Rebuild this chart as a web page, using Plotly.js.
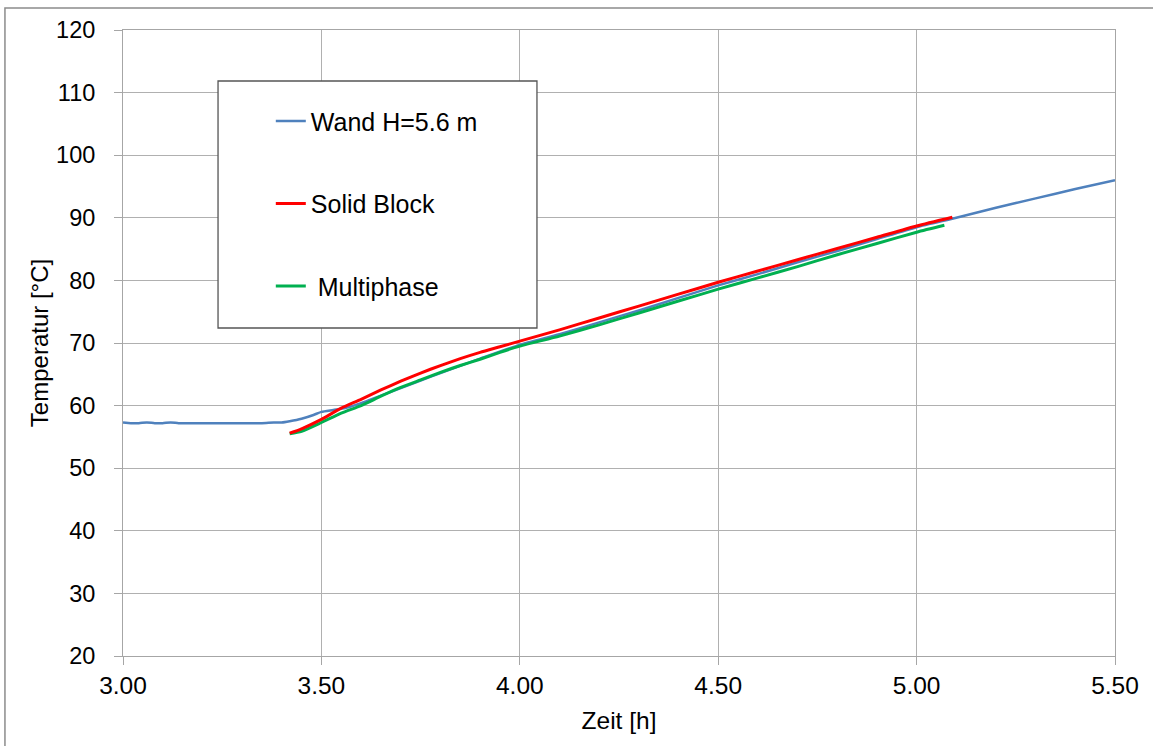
<!DOCTYPE html>
<html>
<head>
<meta charset="utf-8">
<script src="https://cdn.plot.ly/plotly-3.0.1.min.js"></script>
<style>html,body{margin:0;padding:0;background:#fff;}#chart{width:1153px;height:746px;}</style>
</head>
<body>
<div id="chart"></div>
<script>
// Wand H=5.6 m (measured)
var timeWand = [3.00,3.02,3.04,3.06,3.08,3.10,3.12,3.14,3.16,3.20,3.25,3.30,3.35,3.38,3.40,3.42,3.45,3.48,3.50,3.53,3.56,3.60,3.65,3.70,3.75,3.80,3.90,4.00,4.10,4.20,4.30,4.40,4.50,4.60,4.70,4.80,4.90,5.00,5.10,5.20,5.30,5.40,5.50];
var tempWand = [57.3,57.2,57.2,57.3,57.2,57.2,57.3,57.2,57.2,57.2,57.2,57.2,57.2,57.3,57.3,57.5,57.9,58.5,59.0,59.3,59.6,60.4,61.6,62.8,64.0,65.2,67.5,69.7,71.4,73.3,75.2,77.2,79.2,81.0,82.9,84.7,86.6,88.5,90.0,91.6,93.1,94.6,96.0];
// Solid Block (simulation)
var timeSolid = [3.42,3.45,3.50,3.55,3.60,3.65,3.70,3.75,3.80,3.85,3.90,3.95,4.00,4.10,4.20,4.30,4.40,4.50,4.60,4.70,4.80,4.90,5.00,5.09];
var tempSolid = [55.6,56.3,57.8,59.6,61.0,62.5,63.9,65.2,66.4,67.5,68.5,69.4,70.3,72.1,74.0,75.9,77.8,79.7,81.5,83.3,85.1,86.9,88.7,90.1];
// Multiphase (simulation)
var timeMulti = [3.42,3.45,3.50,3.55,3.60,3.65,3.70,3.75,3.80,3.85,3.90,3.95,4.00,4.10,4.20,4.30,4.40,4.50,4.60,4.70,4.80,4.90,5.00,5.07];
var tempMulti = [55.5,55.9,57.3,58.8,60.0,61.5,62.9,64.1,65.3,66.4,67.4,68.5,69.5,71.1,72.9,74.8,76.7,78.6,80.4,82.2,84.1,85.9,87.7,88.8];

var seriesNames = ['Wand H=5.6 m', 'Solid Block', '\u00a0Multiphase'];
var xTickVals = [3.0, 3.5, 4.0, 4.5, 5.0, 5.5];
var xTickText = ['3.00', '3.50', '4.00', '4.50', '5.00', '5.50'];
var yTickVals = [20, 30, 40, 50, 60, 70, 80, 90, 100, 110, 120];

var FONT = 'Liberation Sans, Arial, sans-serif';

var traces = [
  {x: timeWand, y: tempWand, name: seriesNames[0], mode: 'lines', legendgroup: 'a', legendrank: 1,
   line: {color: '#4F81BD', width: 2.5, shape: 'spline', smoothing: 0.6}},
  {x: timeMulti, y: tempMulti, name: seriesNames[2], mode: 'lines', legendgroup: 'c', legendrank: 3,
   line: {color: '#00B050', width: 3, shape: 'spline', smoothing: 0.6}},
  {x: timeSolid, y: tempSolid, name: seriesNames[1], mode: 'lines', legendgroup: 'b', legendrank: 2,
   line: {color: '#FF0000', width: 3, shape: 'spline', smoothing: 0.6}}
];

var layout = {
  width: 1153, height: 746,
  margin: {l: 123, r: 38, t: 30, b: 90, pad: 0},
  paper_bgcolor: '#ffffff', plot_bgcolor: '#ffffff',
  font: {family: FONT, size: 24.5, color: '#000'},
  showlegend: true,
  legend: {
    x: 0.149, xanchor: 'left', y: 0.891, yanchor: 'top',
    bgcolor: 'rgba(0,0,0,0)', borderwidth: 0,
    traceorder: 'grouped', tracegroupgap: 47,
    font: {family: FONT, size: 25, color: '#000'},
    itemclick: false, itemdoubleclick: false
  },
  xaxis: {
    range: [3.0, 5.5], tickmode: 'array', tickvals: xTickVals, ticktext: xTickText,
    showgrid: true, gridcolor: '#b0b0b0', gridwidth: 1, zeroline: false,
    showline: true, linecolor: '#a6a6a6', linewidth: 1, mirror: true,
    ticks: 'outside', ticklen: 8, tickcolor: '#a6a6a6',
    tickfont: {family: FONT, size: 24.5, color: '#000'},
    title: {text: 'Zeit [h]', font: {family: FONT, size: 24.5, color: '#000'}, standoff: 13}
  },
  yaxis: {
    range: [20, 120], tickmode: 'array', tickvals: yTickVals,
    showgrid: true, gridcolor: '#b0b0b0', gridwidth: 1, zeroline: false,
    showline: true, linecolor: '#a6a6a6', linewidth: 1, mirror: true,
    ticks: 'outside', ticklen: 8, tickcolor: '#a6a6a6', ticklabelstandoff: 14,
    tickfont: {family: FONT, size: 23.5, color: '#000'},
    title: {text: 'Temperatur [°C]', font: {family: FONT, size: 24, color: '#000'}, standoff: 0}
  },
  shapes: [
    {type: 'rect', xref: 'paper', yref: 'paper', x0: -0.119, x1: 1.08, y0: -0.2, y1: 1.0351,
     line: {color: '#8c8c8c', width: 1.5}, fillcolor: 'rgba(0,0,0,0)', layer: 'below'},
    {type: 'rect', xref: 'paper', yref: 'paper', x0: 0.0958, x1: 0.4173, y0: 0.524, y1: 0.9185,
     line: {color: '#555555', width: 1.3}, fillcolor: '#ffffff', layer: 'above'}
  ]
};

Plotly.newPlot('chart', traces, layout, {displayModeBar: false, staticPlot: true});
</script>
</body>
</html>
